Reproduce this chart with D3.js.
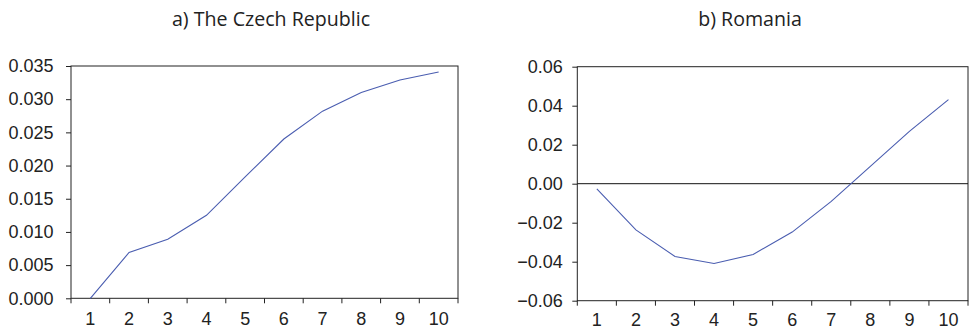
<!DOCTYPE html>
<html><head><meta charset="utf-8">
<script src="https://cdn.jsdelivr.net/npm/d3@7"></script>
<style>body{margin:0;background:#fff}svg{display:block}</style>
</head><body>
<svg id="c" width="969" height="330"></svg>
<script>
const periods = ["1","2","3","4","5","6","7","8","9","10"];
const czechValues = [0.0000, 0.0069, 0.0089, 0.0125, 0.0183, 0.0240, 0.0282, 0.0310, 0.0329, 0.0341];
const romaniaValues = [-0.0027, -0.0237, -0.0373, -0.0409, -0.0363, -0.0248, -0.0091, 0.0089, 0.0268, 0.0431];
const czechTicks = [0, 0.005, 0.010, 0.015, 0.020, 0.025, 0.030, 0.035];
const romaniaTicks = [-0.06, -0.04, -0.02, 0, 0.02, 0.04, 0.06];
const titles = ["a) The Czech Republic", "b) Romania"];

const svg = d3.select("#c");
const lineColor = "#4a5db0";
const axisColor = "#222";
const tickFont = "Liberation Sans, Arial, sans-serif";

function panel(opts){
  const {x0,x1,y0,y1,values,ticks,domain,fmt,title,titleX,pad,xlab} = opts;
  const g = svg.append("g");
  const x = d3.scaleBand().domain(periods).range([x0,x1]);
  const y = d3.scaleLinear().domain(domain).range([y1,y0]);
  g.append("rect").attr("x",x0).attr("y",y0).attr("width",x1-x0).attr("height",y1-y0)
    .attr("fill","none").attr("stroke",axisColor).attr("stroke-width",1);
  const ya = g.append("g").attr("transform",`translate(${x0},0)`)
    .call(d3.axisLeft(y).tickValues(ticks).tickFormat(fmt).tickSize(5).tickPadding(pad));
  ya.select(".domain").remove();
  ya.selectAll("line").attr("stroke",axisColor);
  ya.selectAll("text").attr("font-family",tickFont).attr("font-size",18).attr("fill","#222");
  const xa = g.append("g").attr("transform",`translate(0,${y1})`);
  const bounds = periods.map(p=>x(p)).concat([x1]);
  xa.selectAll("line").data(bounds).join("line")
    .attr("x1",d=>d).attr("x2",d=>d).attr("y1",0).attr("y2",5).attr("stroke",axisColor);
  xa.selectAll("text").data(periods).join("text")
    .attr("x",d=>x(d)+x.bandwidth()/2).attr("y",xlab)
    .attr("text-anchor","middle").attr("font-family",tickFont).attr("font-size",18).attr("fill","#222")
    .text(d=>d);
  if (domain[0] < 0 && domain[1] > 0) {
    g.append("line").attr("x1",x0).attr("x2",x1).attr("y1",y(0)).attr("y2",y(0))
      .attr("stroke","#111").attr("stroke-width",1);
  }
  const line = d3.line().x((d,i)=>x(periods[i])+x.bandwidth()/2).y(d=>y(d));
  g.append("path").datum(values).attr("d",line).attr("fill","none")
    .attr("stroke",lineColor).attr("stroke-width",1.1);
  svg.append("text").attr("x",titleX).attr("y",26).attr("text-anchor","middle")
    .attr("font-family","Open Sans, sans-serif").attr("font-size",19.6).attr("fill","#222")
    .text(title);
}

const minus = s => s.replace("-", "\u2013");
panel({x0:71,x1:458,y0:66,y1:298.3,values:czechValues,ticks:czechTicks,domain:[0,0.035],
  fmt:d3.format(".3f"),title:titles[0],titleX:271,pad:12.5,xlab:26.5});
panel({x0:577.3,x1:968,y0:66.7,y1:300.7,values:romaniaValues,ticks:romaniaTicks,domain:[-0.06,0.06],
  fmt:d=>minus(d3.format(".2f")(d)),title:titles[1],titleX:750,pad:9.6,xlab:25});
</script>
</body></html>
